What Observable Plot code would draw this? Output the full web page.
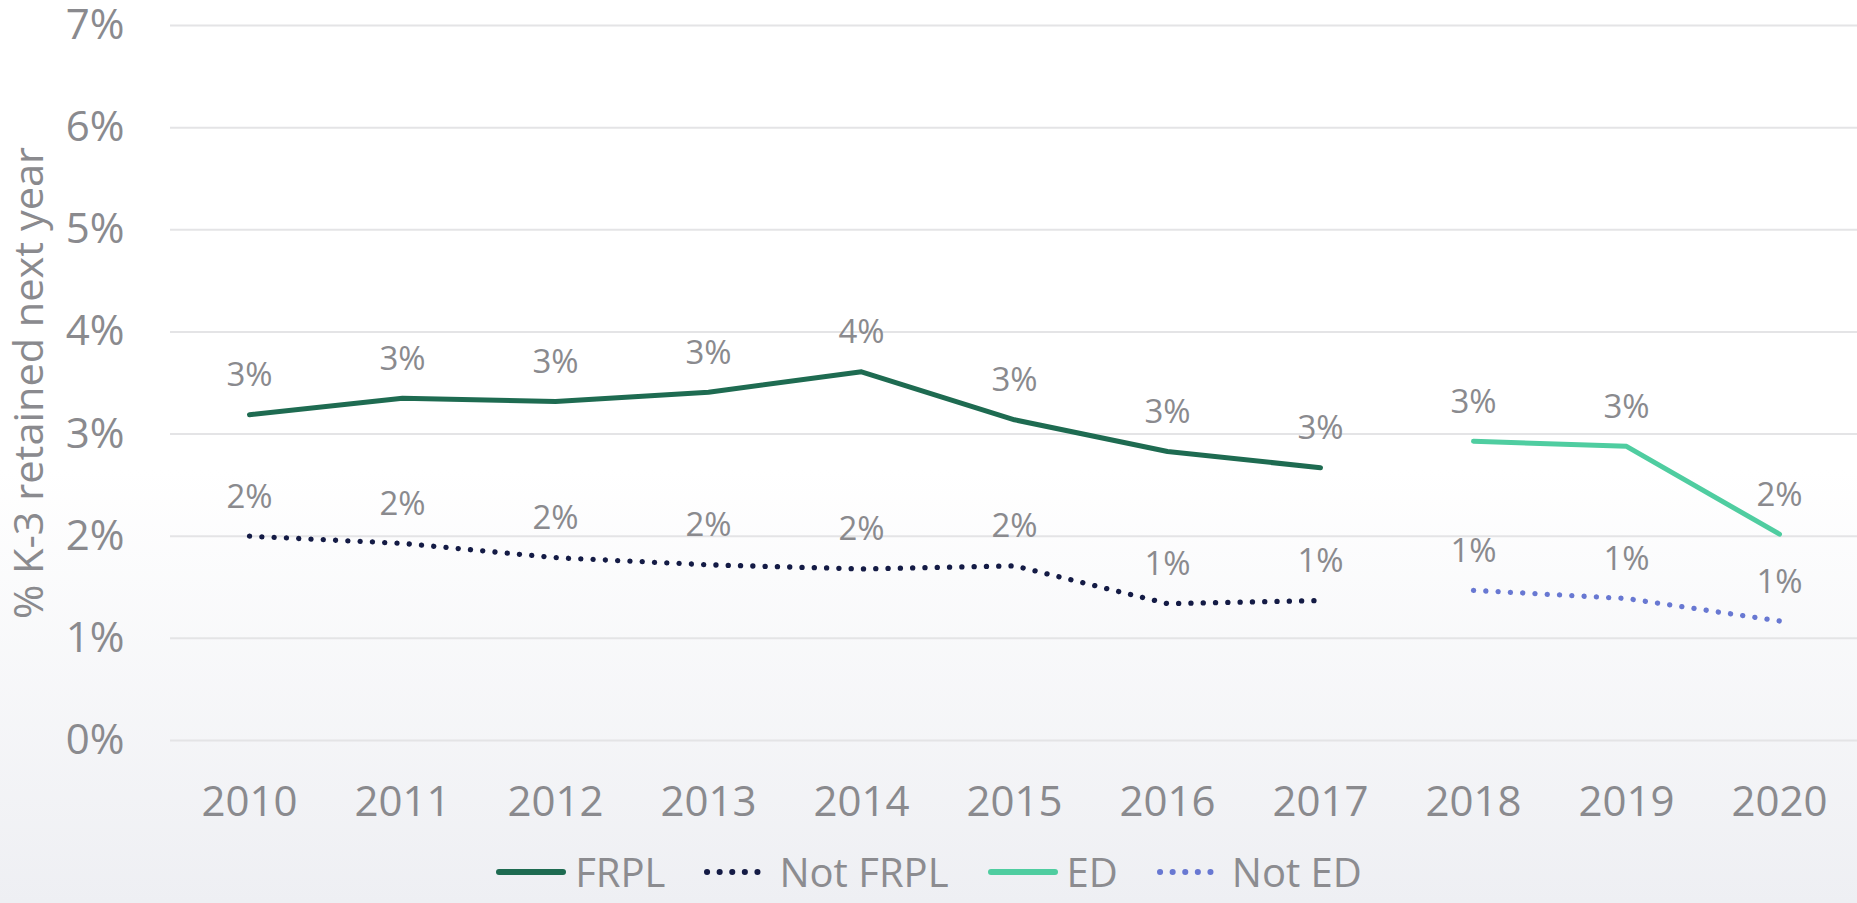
<!DOCTYPE html>
<html>
<head>
<meta charset="utf-8">
<script src="https://cdn.jsdelivr.net/npm/d3@7"></script>
<script src="https://cdn.jsdelivr.net/npm/@observablehq/plot@0.6"></script>
<style>
  html, body { margin: 0; padding: 0; }
  body {
    width: 1857px; height: 903px; overflow: hidden;
    background: linear-gradient(to bottom, #ffffff 0%, #ffffff 52%, #eeeff3 100%);
    font-family: "Open Sans", "Noto Sans", sans-serif;
  }
  #chart svg { display: block; background: transparent; overflow: visible; }
  #legend {
    display: flex; justify-content: center; align-items: center;
    height: 63px; margin-top: 0px; color: #8c8c90; font-size: 40px;
  }
  .item { display: flex; align-items: center; margin: 0 19px; }
  .item svg { margin-right: 8px; }
</style>
</head>
<body>
<div id="chart"></div>
<div id="legend"></div>
<script>
const years = ["2010","2011","2012","2013","2014","2015","2016","2017","2018","2019","2020"];
const frplYears = ["2010","2011","2012","2013","2014","2015","2016","2017"];
const edYears = ["2018","2019","2020"];
const frpl    = [3.19, 3.35, 3.32, 3.41, 3.61, 3.14, 2.83, 2.67];
const notFrpl = [2.00, 1.93, 1.79, 1.72, 1.68, 1.71, 1.34, 1.37];
const ed      = [2.93, 2.88, 2.02];
const notEd   = [1.47, 1.39, 1.17];
const yTicks  = [0, 1, 2, 3, 4, 5, 6, 7];
const seriesNames = ["FRPL", "Not FRPL", "ED", "Not ED"];
const seriesColors = ["#1e6b51", "#141b45", "#4fcda0", "#6878d2"];
const seriesDashed = [false, true, false, true];
const yTitle = "% K-3 retained next year";

const rows = [];
frplYears.forEach((y, i) => {
  rows.push({series: "FRPL", year: y, value: frpl[i] / 100});
  rows.push({series: "Not FRPL", year: y, value: notFrpl[i] / 100});
});
edYears.forEach((y, i) => {
  rows.push({series: "ED", year: y, value: ed[i] / 100});
  rows.push({series: "Not ED", year: y, value: notEd[i] / 100});
});

const textColor = "#8a8a8e";
const fmt = d3.format(".0%");

const lineMarks = seriesNames.map((s, i) => Plot.line(rows.filter(d => d.series === s), {
  x: "year", y: "value",
  stroke: seriesColors[i],
  strokeWidth: seriesDashed[i] ? 5.3 : 5,
  strokeDasharray: seriesDashed[i] ? "0.1 12.2" : null,
  strokeLinecap: "round",
  strokeLinejoin: "round",
  curve: "linear"
}));

const chart = Plot.plot({
  width: 1857,
  height: 840,
  marginTop: 25,
  marginBottom: 100,
  marginLeft: 170,
  marginRight: 0,
  style: {background: "transparent", fontFamily: "'Open Sans', 'Noto Sans', sans-serif", color: textColor},
  x: {type: "point", domain: years, padding: 0.5, label: null},
  y: {domain: [0, 0.07], label: null},
  marks: [
    Plot.ruleY(yTicks.map(t => t / 100), {stroke: "#e4e4e6", strokeWidth: 2}),
    Plot.axisY({ticks: yTicks.map(t => t / 100), tickFormat: fmt, tickSize: 0, tickPadding: 46, fontSize: 42, fill: textColor, label: null}),
    Plot.axisX({tickSize: 0, tickPadding: 46, fontSize: 42, fill: textColor, label: null}),
    ...lineMarks,
    Plot.text(rows, {x: "year", y: "value", text: d => fmt(d.value), dy: -39, fontSize: 33, fill: textColor}),
    Plot.text([yTitle], {frameAnchor: "left", textAnchor: "middle", dx: -140, rotate: -90, fontSize: 40, fill: textColor})
  ]
});
chart.querySelectorAll("text").forEach(t => {
  if (t.textContent.includes("retained")) {
    t.setAttribute("textLength", "472");
    t.setAttribute("lengthAdjust", "spacingAndGlyphs");
  }
});
document.getElementById("chart").appendChild(chart);

const legend = document.getElementById("legend");
seriesNames.forEach((s, i) => {
  const item = document.createElement("div");
  item.className = "item";
  const w = seriesDashed[i] ? 68 : 72;
  const dash = seriesDashed[i] ? 'stroke-dasharray="0.1 12.5"' : "";
  item.innerHTML = `<svg width="${w}" height="12"><line x1="4" y1="6" x2="${w - 4}" y2="6" stroke="${seriesColors[i]}" stroke-width="6" stroke-linecap="round" ${dash}/></svg><span>${s}</span>`;
  legend.appendChild(item);
});
</script>
</body>
</html>
